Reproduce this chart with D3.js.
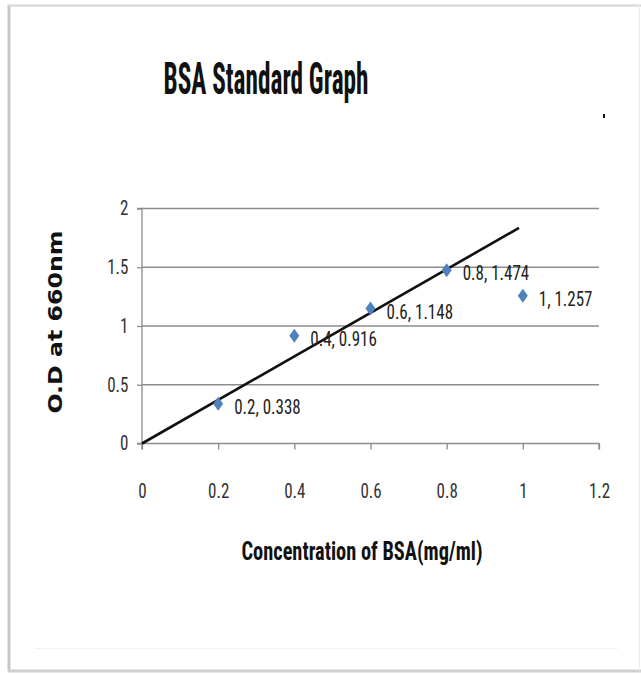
<!DOCTYPE html>
<html><head><meta charset="utf-8">
<script src="https://cdn.jsdelivr.net/npm/d3@7"></script>
<style>
html,body{margin:0;padding:0;background:#fff;}
svg{display:block;}
</style></head>
<body>
<svg id="chart" width="641" height="674"></svg>
<script>
// Data
const concentration = [0.2, 0.4, 0.6, 0.8, 1.0];
const absorbance = [0.338, 0.916, 1.148, 1.474, 1.257];
const pointLabels = ["0.2, 0.338", "0.4, 0.916", "0.6, 1.148", "0.8, 1.474", "1, 1.257"];
const trendX = [0, 0.99];
const trendY = [0, 1.835];
const xTicks = [0, 0.2, 0.4, 0.6, 0.8, 1, 1.2];
const yTicks = [0, 0.5, 1, 1.5, 2];
const titleText = "BSA Standard Graph";
const xTitle = "Concentration of BSA(mg/ml)";
const yTitle = "O.D at 660nm";

const svg = d3.select("#chart");
const narrow = "'Liberation Sans Narrow','Roboto Condensed','Open Sans',sans-serif";

// frame
svg.append("rect").attr("x",0).attr("y",0).attr("width",641).attr("height",674).attr("fill","#fff");
svg.append("line").attr("x1",9).attr("x2",9).attr("y1",5).attr("y2",671).attr("stroke","#c8c8c8").attr("stroke-width",3);
svg.append("line").attr("x1",8).attr("x2",641).attr("y1",5.5).attr("y2",5.5).attr("stroke","#d4d4d4").attr("stroke-width",2);
svg.append("line").attr("x1",8).attr("x2",641).attr("y1",671).attr("y2",671).attr("stroke","#d0d0d0").attr("stroke-width",3);
svg.append("line").attr("x1",639.5).attr("x2",639.5).attr("y1",5).attr("y2",671).attr("stroke","#ececec").attr("stroke-width",1);
svg.append("line").attr("x1",35).attr("x2",618).attr("y1",648.5).attr("y2",648.5).attr("stroke","#f2f2f2").attr("stroke-width",1);

const x = d3.scaleLinear().domain([0,1.2]).range([142,599]);
const y = d3.scaleLinear().domain([0,2]).range([443.5,208.5]);

// gridlines
svg.append("g").selectAll("line").data(yTicks.filter(d=>d>0)).join("line")
  .attr("x1",x(0)).attr("x2",x(1.2)).attr("y1",d=>y(d)).attr("y2",d=>y(d))
  .attr("stroke","#8c8c8c").attr("stroke-width",1.3);

// axes
const xAxis = d3.axisBottom(x).tickValues(xTicks).tickSize(6).tickPadding(34).tickFormat(d=>String(d));
const gx = svg.append("g").attr("transform",`translate(0,${y(0)})`).call(xAxis);
const yAxis = d3.axisLeft(y).tickValues(yTicks).tickSize(5).tickPadding(11).tickFormat(d=>String(d));
const gy = svg.append("g").attr("transform",`translate(${x(0)},0)`).call(yAxis);
[gx,gy].forEach(g=>{
  g.select(".domain").attr("stroke","#8c8c8c").attr("stroke-width",1.3);
  g.selectAll(".tick line").attr("stroke","#8c8c8c").attr("stroke-width",1.3);
  g.selectAll(".tick text").attr("fill","#333").style("font-family",narrow).style("font-size","20px")
    .attr("transform","scale(0.85,1)");
});
gx.select(".domain").attr("d",`M${x(0)},6V0H${x(1.2)}V6`);
gy.select(".domain").attr("d",`M-5,${y(2)}H0V${y(0)}H-5`);

// trendline
svg.append("line")
  .attr("x1",x(trendX[0])).attr("y1",y(trendY[0]))
  .attr("x2",x(trendX[1])).attr("y2",y(trendY[1]))
  .attr("stroke","#111").attr("stroke-width",2.6);

// markers
const pts = concentration.map((c,i)=>({c, a:absorbance[i], label:pointLabels[i]}));
svg.append("g").selectAll("path").data(pts).join("path")
  .attr("d","M0,-7L5,0L0,7L-5,0Z")
  .attr("transform",d=>`translate(${x(d.c)},${y(d.a)})`)
  .attr("fill","#4f81bd");

svg.append("g").selectAll("text").data(pts).join("text")
  .attr("transform",d=>`translate(${x(d.c)+16},${y(d.a)+10}) scale(0.85,1)`)
  .attr("fill","#222").style("font-family",narrow).style("font-size","20px")
  .text(d=>d.label);

// titles
svg.append("text").attr("x",266).attr("y",94).attr("text-anchor","middle")
  .attr("textLength",205).attr("lengthAdjust","spacingAndGlyphs")
  .style("font-family",narrow).style("font-weight","bold").style("font-size","44px").attr("fill","#111")
  .text(titleText);

svg.append("text").attr("x",362).attr("y",560).attr("text-anchor","middle")
  .attr("textLength",241).attr("lengthAdjust","spacingAndGlyphs")
  .style("font-family",narrow).style("font-weight","bold").style("font-size","25px").attr("fill","#111")
  .text(xTitle);

svg.append("text").attr("transform","translate(62,322) rotate(-90)").attr("text-anchor","middle")
  .attr("textLength",183).attr("lengthAdjust","spacingAndGlyphs")
  .style("font-family","'DejaVu Sans',Verdana,sans-serif").style("font-weight","bold").style("font-size","19px").attr("fill","#111")
  .text(yTitle);

// small stray mark
svg.append("rect").attr("x",603).attr("y",114).attr("width",2).attr("height",4).attr("fill","#111");
</script>
</body></html>
